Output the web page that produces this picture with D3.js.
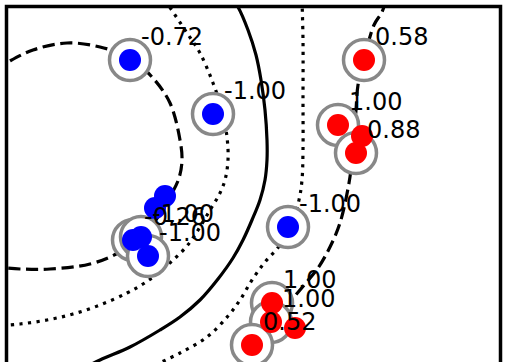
<!DOCTYPE html>
<html>
<head>
<meta charset="utf-8">
<script src="https://cdn.jsdelivr.net/npm/d3@7"></script>
<style>
  html, body { margin: 0; padding: 0; background: #fff; }
  svg { display: block; }
</style>
</head>
<body>
<svg id="chart" width="505" height="362"></svg>
<script>
// Training points (two classes) and the dual coefficients of the support vectors
const pointX     = [-1.18, -0.35, 0.40, -0.83, -0.93, -1.15, -1.07, -1.00,  1.16, 0.90, 1.14, 1.08, 0.24, 0.23, 0.47, 0.04];
const pointY     = [ 1.47,  0.93, -0.20, 0.11, -0.01, -0.33, -0.30, -0.49,  1.47, 0.82, 0.71, 0.54, -0.96, -1.15, -1.21, -1.38];
const pointClass = [-1, -1, -1, -1, -1, -1, -1, -1,  1, 1, 1, 1, 1, 1, 1, 1];
const dualCoef   = [-0.72, -1.00, -1.00, null, null, -0.26, -1.00, -1.00,  0.58, 1.00, null, 0.88, 1.00, 1.00, null, 0.52];

// Decision-function level sets, traced as [x, y] pairs
const contourLevels = [-1, -0.5, 0, 0.5, 1];
const levelNeg1 = [[-2.53, 1.37], [-2.40, 1.45], [-2.15, 1.57], [-1.81, 1.64], [-1.48, 1.60], [-1.18, 1.49],
  [-0.96, 1.30], [-0.78, 1.04], [-0.68, 0.67], [-0.66, 0.47], [-0.69, 0.29], [-0.78, 0.10], [-0.90, -0.10],
  [-1.08, -0.30], [-1.30, -0.46], [-1.58, -0.57], [-1.98, -0.62], [-2.28, -0.62], [-2.53, -0.60]];
const levelNegHalf = [[-0.83, 2.07], [-0.61, 1.74], [-0.48, 1.54], [-0.35, 1.24], [-0.26, 0.97], [-0.21, 0.70],
  [-0.20, 0.47], [-0.23, 0.27], [-0.29, 0.12], [-0.38, -0.03], [-0.48, -0.20], [-0.61, -0.39], [-0.76, -0.54],
  [-0.91, -0.67], [-1.05, -0.77], [-1.21, -0.86], [-1.48, -0.98], [-1.75, -1.07], [-2.01, -1.13],
  [-2.28, -1.17], [-2.53, -1.19]];
const levelZero = [[-0.15, 2.07], [-0.10, 2.00], [0.00, 1.77], [0.08, 1.52], [0.13, 1.27], [0.17, 0.97],
  [0.19, 0.67], [0.19, 0.47], [0.17, 0.27], [0.12, 0.07], [0.04, -0.13], [-0.05, -0.33], [-0.15, -0.51],
  [-0.30, -0.72], [-0.48, -0.93], [-0.68, -1.10], [-0.88, -1.23], [-1.18, -1.40], [-1.48, -1.53],
  [-1.78, -1.68], [-2.28, -1.93]];
const levelPosHalf = [[0.54, 2.07], [0.55, 1.67], [0.55, 1.07], [0.55, 0.57], [0.54, 0.27], [0.51, 0.07],
  [0.44, -0.15], [0.32, -0.38], [0.17, -0.55], [0.04, -0.73], [-0.08, -0.93], [-0.20, -1.09], [-0.41, -1.30],
  [-0.68, -1.46], [-0.93, -1.58]];
const levelPos1 = [[1.38, 2.07], [1.34, 1.95], [1.26, 1.82], [1.16, 1.47], [1.10, 1.22], [1.08, 0.97],
  [1.06, 0.72], [1.04, 0.47], [1.01, 0.24], [0.92, -0.16], [0.82, -0.40], [0.70, -0.61], [0.57, -0.77],
  [0.45, -0.91], [0.32, -1.05], [0.19, -1.21], [0.06, -1.38], [-0.08, -1.58]];
const contourPaths = [levelNeg1, levelNegHalf, levelZero, levelPosHalf, levelPos1];

// Axes box and scales
const plot = { left: 6.5, right: 500.5, top: 6.5, bottom: 500.5 };
const x = d3.scaleLinear().domain([-2.415, 2.525]).range([plot.left, plot.right]);
const y = d3.scaleLinear().domain([-2.935, 2.005]).range([plot.bottom, plot.top]);

const lineW = 3.2;
const dashFor = level => {
  const a = Math.abs(level);
  if (a === 1) return `${lineW * 3.8},${lineW * 1.75}`;
  if (a === 0.5) return `${lineW},${lineW * 1.7}`;
  return null;
};

const svg = d3.select("#chart");

svg.append("defs").append("clipPath").attr("id", "plotClip")
  .append("rect")
  .attr("x", plot.left).attr("y", plot.top)
  .attr("width", plot.right - plot.left).attr("height", plot.bottom - plot.top);

const line = d3.line()
  .x(d => x(d[0]))
  .y(d => y(d[1]))
  .curve(d3.curveCatmullRom.alpha(0.5));

// Contour lines
svg.append("g").attr("clip-path", "url(#plotClip)")
  .selectAll("path")
  .data(contourLevels.map((lv, i) => ({ level: lv, pts: contourPaths[i] })))
  .join("path")
  .attr("d", d => line(d.pts))
  .attr("fill", "none")
  .attr("stroke", "#000")
  .attr("stroke-width", lineW)
  .attr("stroke-dasharray", d => dashFor(d.level));

// Axes frame
svg.append("rect")
  .attr("x", plot.left).attr("y", plot.top)
  .attr("width", plot.right - plot.left).attr("height", plot.bottom - plot.top)
  .attr("fill", "none")
  .attr("stroke", "#000")
  .attr("stroke-width", 3.5);

const points = pointX.map((px, i) => ({ x: px, y: pointY[i], cls: pointClass[i], coef: dualCoef[i] }));
const supportVectors = points.filter(d => d.coef !== null);

// Support-vector rings
svg.append("g")
  .selectAll("circle")
  .data(supportVectors)
  .join("circle")
  .attr("cx", d => x(d.x))
  .attr("cy", d => y(d.y))
  .attr("r", 20.5)
  .attr("fill", "#fff")
  .attr("stroke", "#888")
  .attr("stroke-width", 3.5);

// Training points
svg.append("g")
  .selectAll("circle")
  .data(points)
  .join("circle")
  .attr("cx", d => x(d.x))
  .attr("cy", d => y(d.y))
  .attr("r", 11)
  .attr("fill", d => d.cls > 0 ? "#ff0000" : "#0000ff");

// Dual-coefficient labels
svg.append("g")
  .selectAll("text")
  .data(supportVectors)
  .join("text")
  .attr("x", d => x(d.x) + 11)
  .attr("y", d => y(d.y) - 15.5)
  .attr("font-family", "'DejaVu Sans', sans-serif")
  .attr("font-size", 24)
  .attr("fill", "#000")
  .text(d => d.coef.toFixed(2));
</script>
</body>
</html>
